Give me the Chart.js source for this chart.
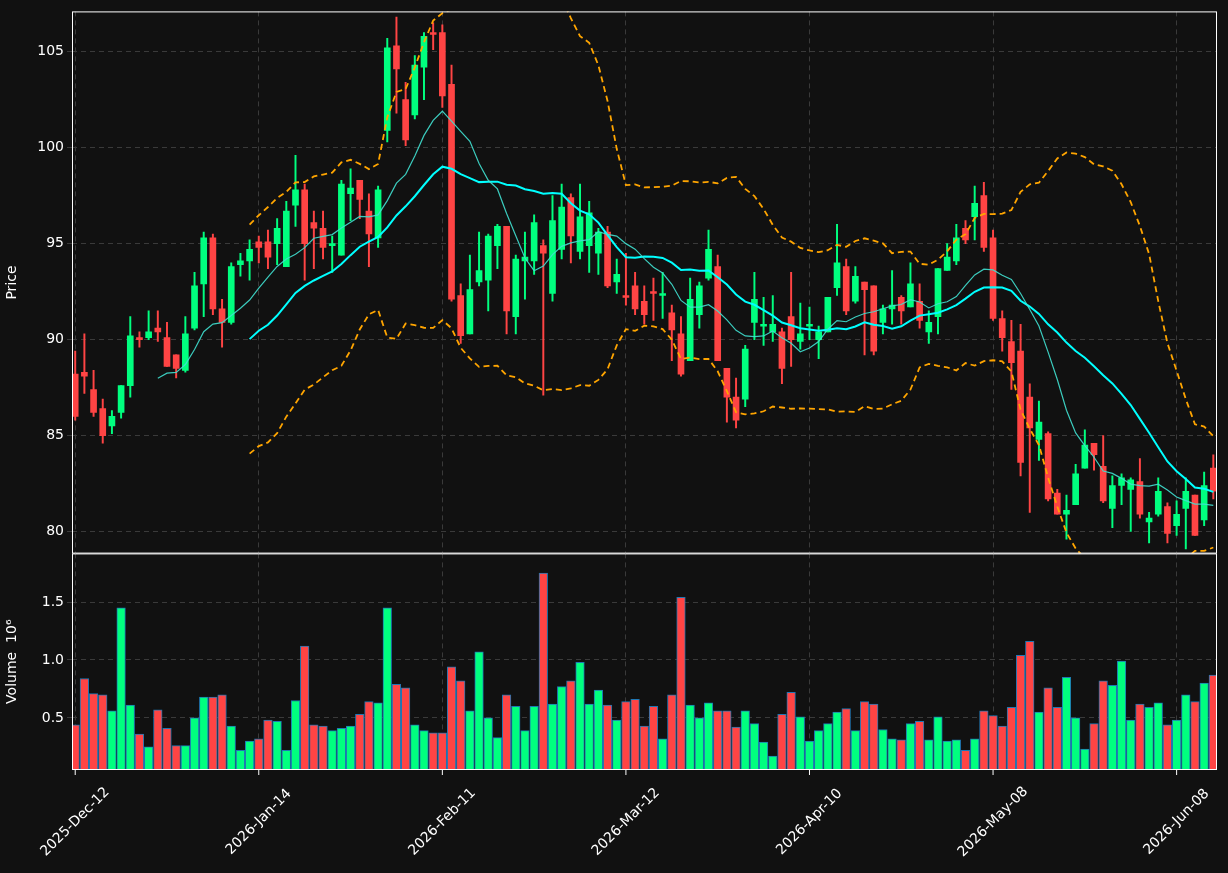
<!DOCTYPE html>
<html>
<head>
<meta charset="utf-8">
<script src="https://cdn.jsdelivr.net/npm/chart.js@4/dist/chart.umd.min.js"></script>
<style>
  body { margin: 0; background: #111111; }
  #wrap { position: relative; width: 1228px; height: 873px; overflow: hidden; }
  #price { position: absolute; left: 0; top: 0; }
  #vol { position: absolute; left: 0; top: 542px; }
</style>
</head>
<body>
<div id="wrap">
  <canvas id="price" width="1228" height="565"></canvas>
  <canvas id="vol" width="1228" height="331"></canvas>
</div>
<script>
// daily OHLC
const opens = [88.2,88.3,87.4,86.4,85.5,86.2,87.6,90.1,90.1,90.6,90.1,89.2,88.4,90.6,92.9,95.3,91.6,90.9,93.9,94.1,
  95.1,95.1,95.0,93.8,97.0,97.8,96.1,95.8,94.9,94.4,97.6,98.3,96.7,95.3,100.9,105.3,102.5,101.7,104.2,106.0,
  106.0,103.3,92.3,90.3,93.0,93.1,94.9,95.9,91.2,94.1,94.1,94.9,92.4,94.7,97.4,94.6,94.9,94.5,95.6,93.0,
  92.3,92.8,92.0,92.5,92.3,91.4,90.3,88.9,91.3,93.2,93.8,88.5,87.0,86.9,90.9,90.7,90.4,90.4,91.2,89.9,
  90.7,90.0,90.4,92.7,93.8,92.0,93.0,92.8,90.9,91.6,92.2,91.7,92.0,90.4,91.2,93.6,94.1,95.8,96.4,97.5,
  95.3,91.1,89.9,89.4,87.0,84.8,85.1,82.0,80.9,81.4,83.3,84.6,83.4,81.2,82.4,82.2,82.6,80.5,80.9,81.3,
  80.3,81.2,81.9,80.6,83.3];
const highs = [89.4,90.3,88.4,86.9,86.3,87.6,91.2,90.4,91.5,91.5,90.9,89.2,91.2,93.5,95.6,95.5,92.1,94.0,94.5,95.2,
  95.4,95.7,96.3,97.2,99.6,98.1,96.7,96.7,95.4,98.3,98.9,98.3,97.6,98.0,105.7,106.8,103.4,104.8,106.0,106.5,
  106.4,104.3,92.9,94.4,95.6,95.5,96.0,95.9,94.4,95.6,96.5,95.2,97.5,98.1,97.6,98.1,97.2,95.8,95.9,94.2,
  94.5,93.5,92.8,93.2,93.5,91.8,91.2,93.2,93.0,95.7,94.4,88.5,88.0,89.7,93.5,92.2,92.3,90.6,93.5,91.9,
  91.7,90.7,92.2,96.0,94.2,93.8,93.0,92.8,91.8,93.6,92.3,94.0,92.9,91.5,93.7,95.0,96.0,96.2,98.0,98.2,
  95.7,91.5,91.0,90.8,87.7,86.8,85.2,82.2,81.9,83.5,85.3,84.6,85.0,82.9,83.0,82.8,83.8,81.0,82.8,81.5,
  81.6,82.8,81.9,83.1,84.0];
const lows = [85.8,87.2,86.0,84.6,85.1,85.9,87.0,89.6,90.0,89.9,88.6,88.0,88.3,90.5,91.2,91.3,89.6,90.8,93.3,93.1,
  94.0,93.7,93.9,93.8,95.9,93.1,93.7,94.2,93.5,94.4,96.2,96.3,93.8,94.8,100.3,101.8,100.1,101.5,102.5,105.1,
  102.1,92.0,89.8,90.3,92.8,91.5,93.7,90.3,90.3,92.1,93.4,87.1,92.0,94.2,94.0,94.2,93.5,93.4,92.7,92.4,
  91.8,91.3,90.8,91.0,91.1,88.9,88.1,88.9,90.6,93.1,88.9,85.7,85.4,86.5,90.0,89.7,89.9,87.7,88.6,89.5,
  90.0,89.0,90.4,92.3,91.3,91.9,89.2,89.2,90.3,90.8,90.8,91.7,90.6,89.8,90.3,93.6,93.9,95.0,95.2,94.6,
  91.0,89.4,87.4,82.9,81.0,83.7,81.6,80.9,79.6,81.4,83.3,83.2,81.5,80.2,81.4,80.0,80.7,79.4,80.8,79.4,
  79.8,79.1,79.8,80.3,81.7];
const closes = [86.0,88.1,86.2,85.0,86.0,87.6,90.2,90.0,90.4,90.4,88.6,88.5,90.3,92.8,95.3,91.6,90.9,93.8,94.1,94.7,
  94.8,94.3,95.8,96.7,97.8,95.0,95.8,94.8,95.0,98.1,97.9,97.3,95.5,97.8,105.2,104.1,100.4,104.3,105.8,105.9,
  102.7,92.1,90.2,92.6,93.6,95.4,95.9,91.5,94.2,94.3,96.1,94.5,96.2,96.9,95.4,96.4,96.6,95.6,92.8,93.4,
  92.2,91.6,91.3,92.4,92.4,90.5,88.2,92.1,92.8,94.7,88.9,87.0,85.8,89.5,92.1,90.8,90.8,88.5,90.0,90.3,
  90.8,90.4,92.2,94.0,91.5,93.3,92.6,89.4,91.6,91.8,91.5,92.9,91.0,90.9,93.7,94.3,95.3,95.2,97.1,94.8,
  91.1,90.1,88.8,83.6,85.4,85.7,81.7,80.9,81.1,83.0,84.5,84.0,81.6,82.4,82.8,82.7,80.9,80.7,82.1,79.9,
  80.9,82.1,79.8,82.4,82.1];
// volume in millions
const volumes = [0.44,0.84,0.71,0.70,0.56,1.45,0.61,0.36,0.25,0.57,0.41,0.26,0.26,0.50,0.68,0.68,0.70,0.43,0.22,0.30,
  0.32,0.48,0.47,0.22,0.65,1.12,0.44,0.43,0.39,0.41,0.43,0.53,0.64,0.63,1.45,0.79,0.76,0.44,0.39,0.37,
  0.37,0.94,0.82,0.56,1.07,0.50,0.33,0.70,0.60,0.39,0.60,1.75,0.62,0.77,0.82,0.98,0.62,0.74,0.61,0.48,
  0.64,0.66,0.43,0.60,0.32,0.70,1.54,0.61,0.50,0.63,0.56,0.56,0.42,0.56,0.45,0.29,0.17,0.53,0.72,0.51,
  0.30,0.39,0.45,0.55,0.58,0.39,0.64,0.62,0.40,0.32,0.31,0.45,0.47,0.31,0.51,0.30,0.31,0.22,0.32,0.56,
  0.52,0.43,0.59,1.04,1.16,0.55,0.76,0.59,0.85,0.50,0.23,0.45,0.82,0.78,0.99,0.48,0.62,0.59,0.63,0.44,
  0.48,0.70,0.64,0.80,0.87];
const tickIndex = [0, 20, 40, 60, 80, 100, 120];
const tickLabels = ['2025-Dec-12','2026-Jan-14','2026-Feb-11','2026-Mar-12','2026-Apr-10','2026-May-08','2026-Jun-08'];

const UP = '#00ff7f', DOWN = '#ff4444';
const colorOf = i => closes[i] >= opens[i] ? UP : DOWN;

function sma(n) {
  return closes.map((c, i) => {
    if (i < n - 1) return {x: i, y: null};
    let s = 0;
    for (let k = i - n + 1; k <= i; k++) s += closes[k];
    return {x: i, y: s / n};
  });
}
function band(n, sign) {
  return closes.map((c, i) => {
    if (i < n - 1) return {x: i, y: null};
    let s = 0, s2 = 0;
    for (let k = i - n + 1; k <= i; k++) { s += closes[k]; s2 += closes[k] * closes[k]; }
    const m = s / n, sd = Math.sqrt(Math.max(0, s2 / n - m * m));
    return {x: i, y: m + sign * 2 * sd};
  });
}

const frame = {
  id: 'frame',
  afterDraw(chart) {
    const a = chart.chartArea, ctx = chart.ctx;
    ctx.save();
    ctx.strokeStyle = '#ffffff';
    ctx.lineWidth = 1;
    ctx.strokeRect(a.left + 0.5, a.top + 0.5, a.right - a.left - 1, a.bottom - a.top - 1);
    ctx.restore();
  }
};

// date labels centred on the tick, like matplotlib's rotated labels
const dateLabels = {
  id: 'dateLabels',
  afterDraw(chart) {
    const ctx = chart.ctx, xs = chart.scales.x, bottom = chart.chartArea.bottom;
    ctx.save();
    ctx.fillStyle = '#ffffff';
    ctx.strokeStyle = '#ffffff';
    ctx.font = '14px "DejaVu Sans"';
    ctx.textAlign = 'center';
    ctx.textBaseline = 'middle';
    tickIndex.forEach((v, k) => {
      const px = xs.getPixelForValue(v);
      ctx.beginPath();
      ctx.moveTo(px, bottom);
      ctx.lineTo(px, bottom + 5);
      ctx.stroke();
      ctx.save();
      ctx.translate(px, bottom + 52);
      ctx.rotate(-Math.PI / 4);
      ctx.fillText(tickLabels[k], 0, 0);
      ctx.restore();
    });
    ctx.restore();
  }
};

const font = {family: 'DejaVu Sans', size: 14};
Chart.defaults.color = '#ffffff';
Chart.defaults.animation = false;

function xScale() {
  return {
    type: 'linear', min: -0.35, max: 124.4, offset: false,
    afterBuildTicks: s => { s.ticks = tickIndex.map(v => ({value: v})); },
    afterFit: s => { s.height = 0; },
    grid: {color: '#3a3a3a', drawTicks: false, offset: false},
    border: {display: false, dash: [5, 4]},
    ticks: {display: false}
  };
}
function fitLeft(s) { s.width = 72; }

new Chart(document.getElementById('price'), {
  type: 'bar',
  data: {
    datasets: [
      {type: 'line', label: 'mav10', data: sma(10), borderColor: 'rgba(64,224,208,0.9)', borderWidth: 1.2,
       pointRadius: 0, order: 0},
      {type: 'line', label: 'mav20', data: sma(20), borderColor: '#00ffff', borderWidth: 2,
       pointRadius: 0, order: 0},
      {type: 'line', label: 'upper', data: band(20, 1), borderColor: '#ffa500', borderWidth: 1.8,
       borderDash: [6, 4], pointRadius: 0, order: 0},
      {type: 'line', label: 'lower', data: band(20, -1), borderColor: '#ffa500', borderWidth: 1.8,
       borderDash: [6, 4], pointRadius: 0, order: 0},
      {label: 'body', data: opens.map((o, i) => ({x: i, y: [o, closes[i] === o ? o + 0.05 : closes[i]]})),
       backgroundColor: ctx => colorOf(ctx.dataIndex), barThickness: 6, grouped: false, order: 1},
      {label: 'wick', data: lows.map((l, i) => ({x: i, y: [l, highs[i]]})),
       backgroundColor: ctx => colorOf(ctx.dataIndex), barThickness: 1.3, grouped: false, order: 2}
    ]
  },
  options: {
    responsive: false,
    layout: {padding: {top: 10, right: 11, left: 0, bottom: 1}},
    plugins: {legend: {display: false}, tooltip: {enabled: false}},
    scales: {
      x: xScale(),
      y: {
        min: 78.85, max: 107.1, afterFit: fitLeft,
        afterBuildTicks: s => { s.ticks = [80, 85, 90, 95, 100, 105].map(v => ({value: v})); },
        grid: {color: '#3a3a3a', tickLength: 5}, border: {display: false, dash: [5, 4]},
        ticks: {font: font, color: '#ffffff'},
        title: {display: true, text: 'Price', font: font, color: '#ffffff'}
      }
    }
  },
  plugins: [frame]
});

new Chart(document.getElementById('vol'), {
  type: 'bar',
  data: {
    datasets: [{
      label: 'Volume', data: volumes.map((v, i) => ({x: i, y: v})),
      backgroundColor: ctx => colorOf(ctx.dataIndex), borderColor: '#1f77b4', borderWidth: 1,
      barThickness: 8.6, borderSkipped: false
    }]
  },
  options: {
    responsive: false,
    layout: {padding: {top: 1, right: 11, left: 0, bottom: 103}},
    plugins: {legend: {display: false}, tooltip: {enabled: false}},
    scales: {
      x: xScale(),
      y: {
        min: 0.05, max: 1.92, afterFit: fitLeft,
        afterBuildTicks: s => { s.ticks = [0.5, 1.0, 1.5].map(v => ({value: v})); },
        grid: {color: '#3a3a3a', tickLength: 5}, border: {display: false, dash: [5, 4]},
        ticks: {font: font, color: '#ffffff', callback: v => v.toFixed(1)},
        title: {display: true, text: 'Volume  10\u2076', font: font, color: '#ffffff'}
      }
    }
  },
  plugins: [frame, dateLabels]
});
</script>
</body>
</html>
